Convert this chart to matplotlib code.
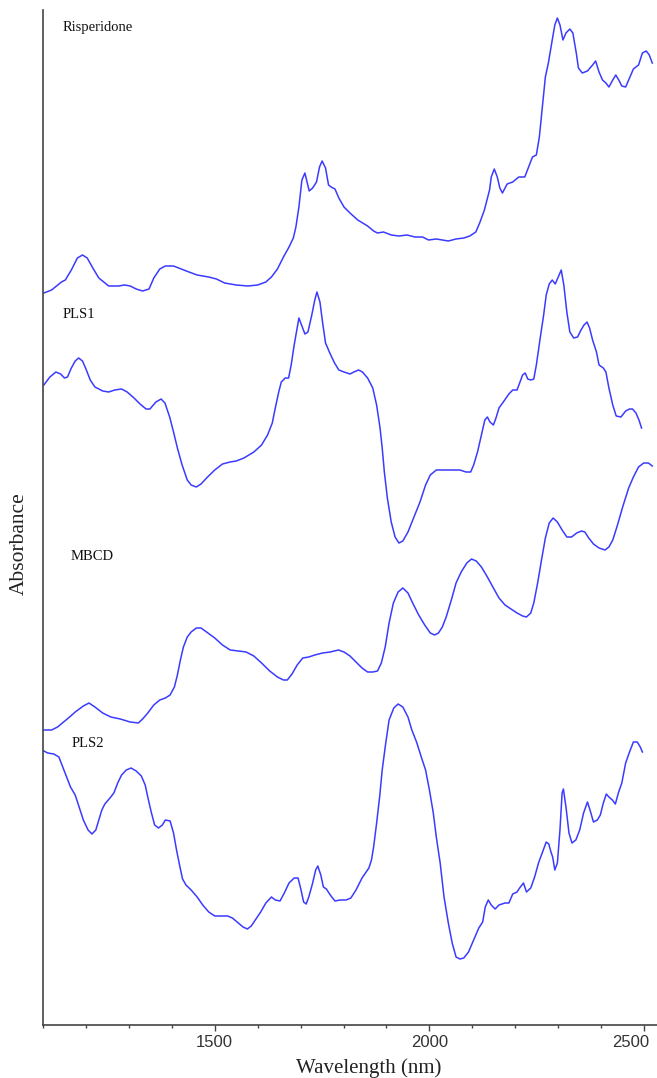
import matplotlib.pyplot as plt
from matplotlib.ticker import MultipleLocator
from matplotlib.transforms import ScaledTranslation

# NIR spectra, stacked with vertical offsets (absorbance in arbitrary units)
risp_wl = [1102, 1120, 1143, 1152, 1166, 1180, 1192, 1203, 1216, 1230, 1253, 1276, 1290, 1303,
           1317, 1332, 1347, 1358, 1372, 1385, 1404, 1422, 1440, 1459, 1486, 1504, 1523, 1550,
           1577, 1600, 1619, 1632, 1646, 1660, 1673, 1683, 1689, 1696, 1703, 1710, 1715, 1720,
           1728, 1737, 1744, 1750, 1758, 1765, 1771, 1780, 1789, 1801, 1815, 1833, 1856, 1870,
           1879, 1893, 1911, 1929, 1948, 1966, 1984, 1998, 2016, 2044, 2062, 2080, 2094, 2108,
           2117, 2128, 2140, 2144, 2151, 2158, 2164, 2170, 2181, 2194, 2208, 2222, 2231, 2240,
           2249, 2256, 2263, 2270, 2277, 2286, 2292, 2298, 2304, 2311, 2318, 2327, 2334, 2342,
           2347, 2356, 2368, 2380, 2387, 2395, 2403, 2411, 2418, 2427, 2434, 2441, 2448, 2457,
           2464, 2475, 2487, 2496, 2505, 2512, 2519]
risp_abs = [732, 735, 743, 745, 755, 767, 770, 767, 757, 747, 739, 739, 740, 739,
            736, 734, 736, 747, 756, 759, 759, 756, 753, 750, 748, 746, 742, 740,
            739, 740, 743, 748, 756, 768, 778, 787, 798, 818, 845, 852, 843, 834,
            837, 843, 858, 864, 857, 840, 838, 836, 827, 818, 812, 805, 799, 794,
            792, 793, 790, 789, 790, 788, 788, 785, 786, 784, 786, 787, 789, 793,
            802, 815, 835, 848, 856, 848, 837, 832, 841, 843, 848, 848, 858, 868,
            870, 888, 918, 948, 962, 985, 1000, 1007, 1000, 985, 992, 996, 992, 972,
            957, 952, 954, 960, 964, 953, 945, 942, 938, 945, 950, 945, 939, 938,
            945, 956, 960, 972, 974, 970, 962]

pls1_wl = [1102, 1116, 1130, 1141, 1150, 1157, 1166, 1175, 1183, 1192, 1201, 1210, 1221, 1239,
           1253, 1267, 1283, 1296, 1312, 1326, 1340, 1349, 1363, 1375, 1384, 1395, 1404, 1413,
           1424, 1436, 1445, 1457, 1468, 1481, 1500, 1518, 1536, 1550, 1568, 1591, 1609, 1623,
           1634, 1641, 1649, 1655, 1664, 1672, 1678, 1685, 1692, 1696, 1704, 1710, 1717, 1726,
           1733, 1738, 1745, 1751, 1758, 1768, 1779, 1789, 1801, 1815, 1824, 1835, 1844, 1856,
           1868, 1877, 1885, 1890, 1895, 1902, 1911, 1920, 1929, 1938, 1950, 1963, 1978, 1991,
           2002, 2016, 2034, 2053, 2071, 2085, 2096, 2103, 2112, 2121, 2129, 2135, 2141, 2149,
           2155, 2162, 2172, 2185, 2194, 2204, 2210, 2217, 2223, 2229, 2236, 2243, 2249, 2258,
           2266, 2272, 2279, 2286, 2293, 2299, 2307, 2313, 2320, 2327, 2336, 2345, 2353, 2360,
           2367, 2373, 2380, 2389, 2395, 2405, 2411, 2418, 2427, 2435, 2446, 2457, 2466, 2473,
           2481, 2488, 2494]
pls1_abs = [640, 648, 653, 651, 647, 648, 657, 664, 667, 664, 655, 645, 638, 634,
            633, 635, 636, 633, 627, 621, 616, 616, 623, 626, 622, 608, 593, 577,
            560, 545, 540, 538, 541, 547, 555, 561, 563, 564, 567, 573, 580, 590,
            602, 617, 633, 643, 647, 647, 660, 680, 697, 707, 698, 691, 693, 710,
            725, 733, 723, 703, 682, 672, 662, 655, 653, 651, 653, 655, 653, 647,
            637, 620, 597, 577, 553, 527, 503, 488, 482, 484, 493, 507, 523, 540,
            550, 555, 555, 555, 555, 553, 553, 560, 573, 590, 605, 608, 603, 600,
            607, 617, 623, 631, 635, 635, 642, 650, 652, 646, 645, 646, 660, 687,
            710, 730, 741, 745, 741, 747, 755, 740, 713, 693, 687, 688, 695, 700,
            703, 697, 685, 673, 660, 657, 653, 637, 620, 609, 608, 614, 616, 616,
            612, 605, 597]

mbcd_wl = [1102, 1120, 1134, 1148, 1162, 1175, 1194, 1207, 1221, 1239, 1258, 1280, 1303, 1322,
           1332, 1344, 1358, 1372, 1385, 1396, 1406, 1413, 1420, 1427, 1436, 1445, 1457, 1468,
           1481, 1500, 1518, 1536, 1555, 1573, 1591, 1609, 1628, 1646, 1660, 1669, 1680, 1692,
           1705, 1719, 1733, 1751, 1769, 1788, 1801, 1815, 1829, 1843, 1856, 1868, 1879, 1888,
           1897, 1906, 1916, 1927, 1938, 1950, 1961, 1975, 1989, 2002, 2012, 2021, 2030, 2039,
           2051, 2062, 2074, 2087, 2098, 2109, 2121, 2135, 2149, 2162, 2176, 2190, 2204, 2217,
           2226, 2236, 2243, 2252, 2261, 2270, 2279, 2288, 2298, 2309, 2320, 2331, 2343, 2354,
           2362, 2371, 2382, 2395, 2409, 2418, 2427, 2438, 2450, 2464, 2475, 2487, 2499, 2510,
           2519]
mbcd_abs = [295, 295, 298, 303, 308, 313, 319, 322, 318, 312, 308, 306, 303, 302,
            306, 312, 320, 325, 327, 330, 338, 350, 365, 378, 388, 393, 397, 397,
            393, 387, 380, 375, 374, 373, 369, 362, 354, 348, 345, 345, 351, 360,
            367, 368, 370, 372, 373, 375, 373, 369, 363, 357, 353, 353, 354, 362,
            378, 402, 422, 433, 437, 432, 422, 410, 400, 392, 390, 392, 398, 408,
            425, 442, 453, 462, 466, 464, 458, 448, 437, 427, 420, 416, 412, 409,
            408, 412, 422, 442, 465, 487, 502, 507, 503, 495, 488, 488, 492, 494,
            493, 487, 481, 477, 475, 478, 485, 500, 518, 537, 548, 558, 562, 562,
            559]

pls2_wl = [1102, 1111, 1125, 1137, 1146, 1155, 1164, 1175, 1184, 1194, 1205, 1214, 1223, 1230,
           1237, 1244, 1256, 1265, 1274, 1283, 1294, 1305, 1317, 1329, 1338, 1344, 1352, 1360,
           1369, 1378, 1385, 1396, 1404, 1411, 1418, 1425, 1433, 1445, 1459, 1472, 1486, 1500,
           1513, 1530, 1541, 1555, 1566, 1576, 1585, 1596, 1607, 1619, 1632, 1641, 1652, 1662,
           1673, 1685, 1694, 1701, 1707, 1713, 1719, 1728, 1735, 1740, 1747, 1753, 1760, 1769,
           1780, 1792, 1806, 1817, 1829, 1843, 1859, 1865, 1870, 1877, 1884, 1890, 1897, 1906,
           1917, 1927, 1938, 1950, 1959, 1970, 1981, 1991, 2000, 2009, 2016, 2025, 2034, 2044,
           2053, 2062, 2071, 2080, 2091, 2103, 2115, 2124, 2130, 2137, 2144, 2153, 2162, 2176,
           2185, 2194, 2204, 2210, 2219, 2226, 2236, 2245, 2254, 2265, 2272, 2278, 2283, 2287,
           2292, 2298, 2304, 2309, 2312, 2318, 2325, 2332, 2341, 2350, 2359, 2368, 2374, 2382,
           2391, 2398, 2405, 2412, 2418, 2426, 2433, 2440, 2448, 2457, 2466, 2475, 2484, 2491,
           2496]
pls2_abs = [274, 272, 271, 268, 258, 248, 238, 230, 218, 205, 195, 191, 195, 205,
            215, 221, 227, 232, 242, 250, 255, 257, 254, 249, 240, 228, 213, 200,
            197, 200, 205, 204, 192, 175, 160, 146, 140, 135, 128, 120, 113, 109,
            109, 109, 107, 102, 98, 96, 99, 106, 113, 122, 128, 125, 124, 132,
            142, 147, 147, 135, 123, 121, 128, 142, 155, 159, 150, 138, 136, 130,
            124, 125, 125, 127, 135, 147, 157, 165, 178, 202, 228, 255, 278, 305,
            317, 321, 318, 308, 295, 283, 268, 255, 235, 212, 188, 162, 128, 102,
            82, 68, 66, 67, 73, 85, 97, 103, 118, 125, 120, 116, 120, 122,
            122, 131, 133, 137, 142, 133, 137, 148, 162, 175, 183, 181, 173, 168,
            155, 162, 195, 232, 236, 218, 192, 182, 185, 195, 212, 223, 215, 203,
            205, 210, 222, 231, 228, 225, 221, 232, 242, 262, 273, 283, 283, 278,
            273]

names = ['Risperidone', 'PLS1', 'MBCD', 'PLS2']
label_x = [1146, 1146, 1165, 1167]
label_y = [994, 707, 465, 278]

line_color = '#3b3bff'

fig = plt.figure(figsize=(6.57, 10.78), dpi=100)
ax = fig.add_axes([43 / 657, 53 / 1078, 614 / 657, 1015 / 1078])

for wl, ab in [(risp_wl, risp_abs), (pls1_wl, pls1_abs), (mbcd_wl, mbcd_abs), (pls2_wl, pls2_abs)]:
    ax.plot(wl, ab, color=line_color, lw=1.1, solid_joinstyle='round')

for name, lx, ly in zip(names, label_x, label_y):
    ax.text(lx, ly, name, family='Liberation Serif', fontsize=10.5, color='#111111', va='baseline')

ax.set_xlim(1100, 2530)
ax.set_ylim(0, 1015)

ax.spines['top'].set_visible(False)
ax.spines['right'].set_visible(False)
for side in ['left', 'bottom']:
    ax.spines[side].set_color('#444444')
    ax.spines[side].set_linewidth(1.2)

ax.xaxis.set_major_locator(MultipleLocator(500))
ax.xaxis.set_minor_locator(MultipleLocator(100))
ax.set_yticks([])
ax.tick_params(axis='x', which='major', length=4, width=1, color='#444444', pad=3,
               labelsize=12, labelcolor='#333333')
ax.tick_params(axis='x', which='minor', length=2.5, width=1, color='#444444')
fig.canvas.draw()
for lab in ax.get_xticklabels():
    lab.set_family('Liberation Sans')
    if lab.get_text() == '2500':
        # keep the last label inside the figure edge
        lab.set_transform(lab.get_transform() + ScaledTranslation(-0.13, 0, fig.dpi_scale_trans))

fig.text(369 / 657, 5 / 1078, 'Wavelength (nm)', family='Liberation Serif', fontsize=15,
         ha='center', va='baseline', color='#222222')
fig.text(19 / 657, 1 - 544 / 1078, 'Absorbance', family='Liberation Serif', fontsize=15.5,
         ha='center', va='center', rotation=90, color='#222222')

fig.savefig('out.png', dpi=100)
